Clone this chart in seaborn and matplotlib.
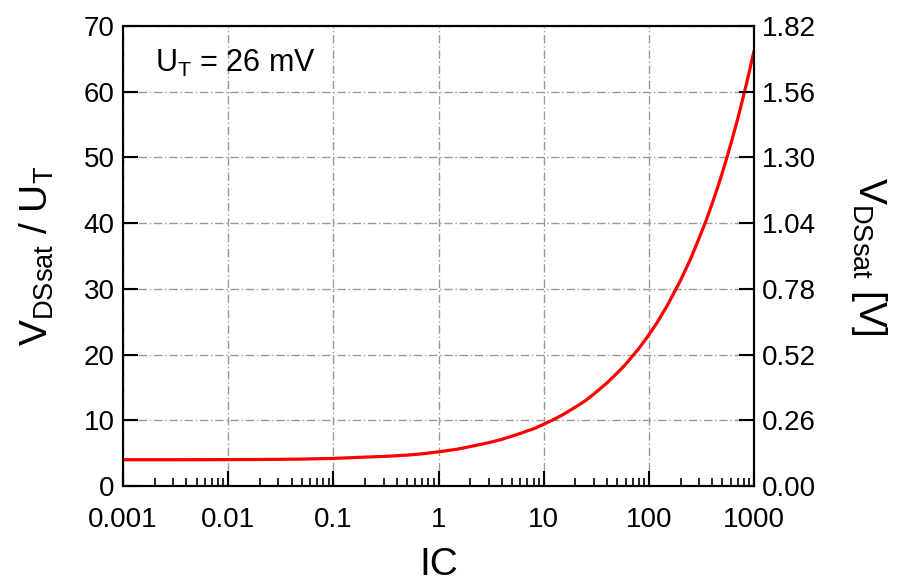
import numpy as np
import pandas as pd
import matplotlib
matplotlib.use("Agg")
import matplotlib.pyplot as plt
import matplotlib.ticker as mticker
import seaborn as sns

# Inversion coefficient and normalised saturation voltage VDSsat / UT
ic = [0.001, 0.002, 0.003, 0.005, 0.01, 0.02, 0.03, 0.05, 0.1, 0.2, 0.3, 0.5,
      0.7, 1, 1.5, 2, 3, 4, 5, 6, 7, 8, 10, 12, 15, 20, 25, 30, 40, 50, 60,
      70, 80, 100, 120, 150, 200, 250, 300, 350, 400, 450, 500, 550, 600,
      650, 700, 750, 800, 850, 900, 950, 1000]
vdsat_ut = [4.0, 4.0, 4.0, 4.01, 4.02, 4.04, 4.06, 4.1, 4.2, 4.4, 4.5, 4.7,
            4.9, 5.2, 5.6, 6.0, 6.6, 7.1, 7.6, 8.0, 8.4, 8.7, 9.4, 10.0, 10.8,
            12.0, 13.0, 14.0, 15.7, 17.2, 18.5, 19.8, 20.9, 23.0, 24.9, 27.5,
            31.3, 34.6, 37.7, 40.4, 43.0, 45.4, 47.7, 49.9, 52.0, 54.0, 55.9,
            57.8, 59.6, 61.3, 63.0, 64.7, 66.2]

ut_volts = 0.026
left_ticks = [0, 10, 20, 30, 40, 50, 60, 70]
x_ticks = [0.001, 0.01, 0.1, 1, 10, 100, 1000]
x_ticklabels = ["0.001", "0.01", "0.1", "1", "10", "100", "1000"]

sns.set_style("ticks")
plt.rcParams["font.family"] = ["Liberation Sans", "DejaVu Sans"]
plt.rcParams["mathtext.fontset"] = "custom"
plt.rcParams["mathtext.rm"] = "Liberation Sans"
plt.rcParams["mathtext.it"] = "Liberation Sans"
plt.rcParams["mathtext.bf"] = "Liberation Sans:bold"
plt.rcParams["text.color"] = "black"
plt.rcParams["axes.labelcolor"] = "black"
plt.rcParams["xtick.color"] = "black"
plt.rcParams["ytick.color"] = "black"

df = pd.DataFrame({"IC": ic, "ratio": vdsat_ut})

fig = plt.figure(figsize=(9.12, 5.85), dpi=100)
ax = fig.add_axes([0.1349, 0.1692, 0.6919, 0.7863])

sns.lineplot(data=df, x="IC", y="ratio", ax=ax, color="#ff0000", lw=2.3)

ax.set_xscale("log")
ax.set_xlim(0.001, 1000)
ax.set_ylim(0, 70)
ax.set_xticks(x_ticks)
ax.set_xticklabels(x_ticklabels)
ax.xaxis.set_minor_locator(mticker.LogLocator(base=10, subs=np.arange(2, 10)))
ax.xaxis.set_minor_formatter(mticker.NullFormatter())
ax.set_yticks(left_ticks)

ax.grid(True, which="major", color="#999999", linestyle=(0, (6, 2, 1, 2)), lw=1.0)
ax.set_axisbelow(True)

for s in ax.spines.values():
    s.set_linewidth(1.5)
    s.set_color("black")

ax.tick_params(axis="both", which="major", direction="in", length=11, width=1.5,
               labelsize=20, colors="black")
ax.tick_params(axis="x", which="minor", direction="in", length=6, width=1.2,
               colors="black")
ax.tick_params(axis="x", which="major", pad=15)
ax.tick_params(axis="y", which="major", pad=6)
ax.tick_params(top=False, right=False, which="both")

ax.set_xlabel("IC", fontsize=28, labelpad=10)
ax.set_ylabel(r"$\mathrm{V_{DSsat}}$ / $\mathrm{U_T}$", fontsize=28, labelpad=20)

ax2 = ax.twinx()
ax2.set_ylim(0, 70 * ut_volts)
ax2.set_yticks([v * ut_volts for v in left_ticks])
ax2.yaxis.set_major_formatter(mticker.FormatStrFormatter("%.2f"))
ax2.tick_params(axis="y", direction="in", length=11, width=1.5, labelsize=20,
                pad=6, colors="black")
for s in ax2.spines.values():
    s.set_linewidth(1.5)
    s.set_color("black")
ax2.set_ylabel(r"$\mathrm{V_{DSsat}}$ [V]", fontsize=28, rotation=270, labelpad=52)

ax.text(0.05, 0.90, r"$\mathrm{U_T}$ = 26 mV", transform=ax.transAxes,
        fontsize=22, ha="left", va="baseline")

fig.savefig("out.png", dpi=100)
